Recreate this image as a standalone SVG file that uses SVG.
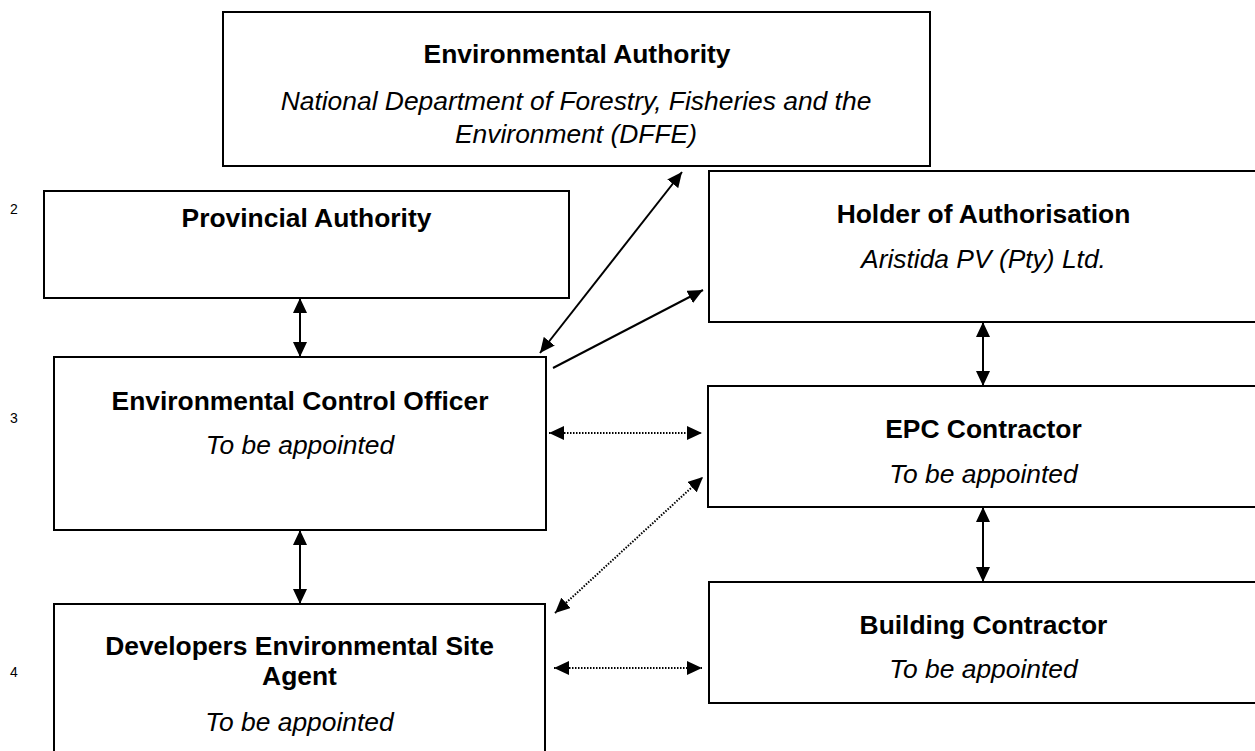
<svg xmlns="http://www.w3.org/2000/svg" width="1255" height="751" viewBox="0 0 1255 751">
<defs>
<marker id="ah" viewBox="0 0 15 14" refX="15" refY="7" markerWidth="15" markerHeight="14" markerUnits="userSpaceOnUse" orient="auto-start-reverse">
<path d="M0,0 L15,7 L0,14 z" fill="#000"/>
</marker>
<style>
.box{fill:#fff;stroke:#000;stroke-width:2}
.t{font-family:"Liberation Sans",Arial,sans-serif;font-size:26.4px;font-weight:bold;text-anchor:middle;fill:#000}
.s{font-family:"Liberation Sans",Arial,sans-serif;font-size:26.4px;font-style:italic;text-anchor:middle;fill:#000}
.n{font-family:"Liberation Sans",Arial,sans-serif;font-size:14px;fill:#000}
.c{stroke:#000;stroke-width:2;fill:none}
.d{stroke:#000;stroke-width:2;fill:none;stroke-dasharray:1.5 1.5}
</style>
</defs>
<rect width="1255" height="751" fill="#fff"/>
<g id="labels">
<text class="n" x="10" y="214">2</text>
<text class="n" x="10" y="423">3</text>
<text class="n" x="10" y="677">4</text>
</g>
<g id="env-authority">
<rect class="box" x="223" y="12" width="707" height="154"/>
<text class="t" x="577" y="63">Environmental Authority</text>
<text class="s" x="576" y="110">National Department of Forestry, Fisheries and the</text>
<text class="s" x="576" y="143">Environment (DFFE)</text>
</g>
<g id="provincial-authority">
<rect class="box" x="44" y="191" width="525" height="107"/>
<text class="t" x="306.5" y="227">Provincial Authority</text>
</g>
<g id="holder">
<rect class="box" x="709" y="171" width="560" height="151"/>
<text class="t" x="983.5" y="223">Holder of Authorisation</text>
<text class="s" x="983.5" y="268">Aristida PV (Pty) Ltd.</text>
</g>
<g id="eco">
<rect class="box" x="54" y="357" width="492" height="173"/>
<text class="t" x="300" y="410">Environmental Control Officer</text>
<text class="s" x="300" y="454">To be appointed</text>
</g>
<g id="epc">
<rect class="box" x="708" y="386" width="560" height="121"/>
<text class="t" x="983.5" y="438">EPC Contractor</text>
<text class="s" x="983.5" y="483">To be appointed</text>
</g>
<g id="desa">
<rect class="box" x="54" y="604" width="491" height="170"/>
<text class="t" x="299.5" y="655">Developers Environmental Site</text>
<text class="t" x="299.5" y="685">Agent</text>
<text class="s" x="299.5" y="731">To be appointed</text>
</g>
<g id="building">
<rect class="box" x="709" y="582" width="560" height="121"/>
<text class="t" x="983.5" y="634">Building Contractor</text>
<text class="s" x="983.5" y="678">To be appointed</text>
</g>
<g id="connectors">
<line class="c" x1="300" y1="298" x2="300" y2="357" marker-start="url(#ah)" marker-end="url(#ah)"/>
<line class="c" x1="300" y1="530" x2="300" y2="604" marker-start="url(#ah)" marker-end="url(#ah)"/>
<line class="c" x1="983" y1="322" x2="983" y2="386" marker-start="url(#ah)" marker-end="url(#ah)"/>
<line class="c" x1="983" y1="507" x2="983" y2="582" marker-start="url(#ah)" marker-end="url(#ah)"/>
<line class="c" x1="540" y1="353" x2="682" y2="172" marker-start="url(#ah)" marker-end="url(#ah)"/>
<line class="c" x1="553" y1="368" x2="703" y2="290" marker-end="url(#ah)"/>
<line class="d" x1="549" y1="433" x2="702" y2="433" marker-start="url(#ah)" marker-end="url(#ah)"/>
<line class="d" x1="555" y1="613" x2="703" y2="477" marker-start="url(#ah)" marker-end="url(#ah)"/>
<line class="d" x1="554" y1="668" x2="702" y2="668" marker-start="url(#ah)" marker-end="url(#ah)"/>
</g>
</svg>
